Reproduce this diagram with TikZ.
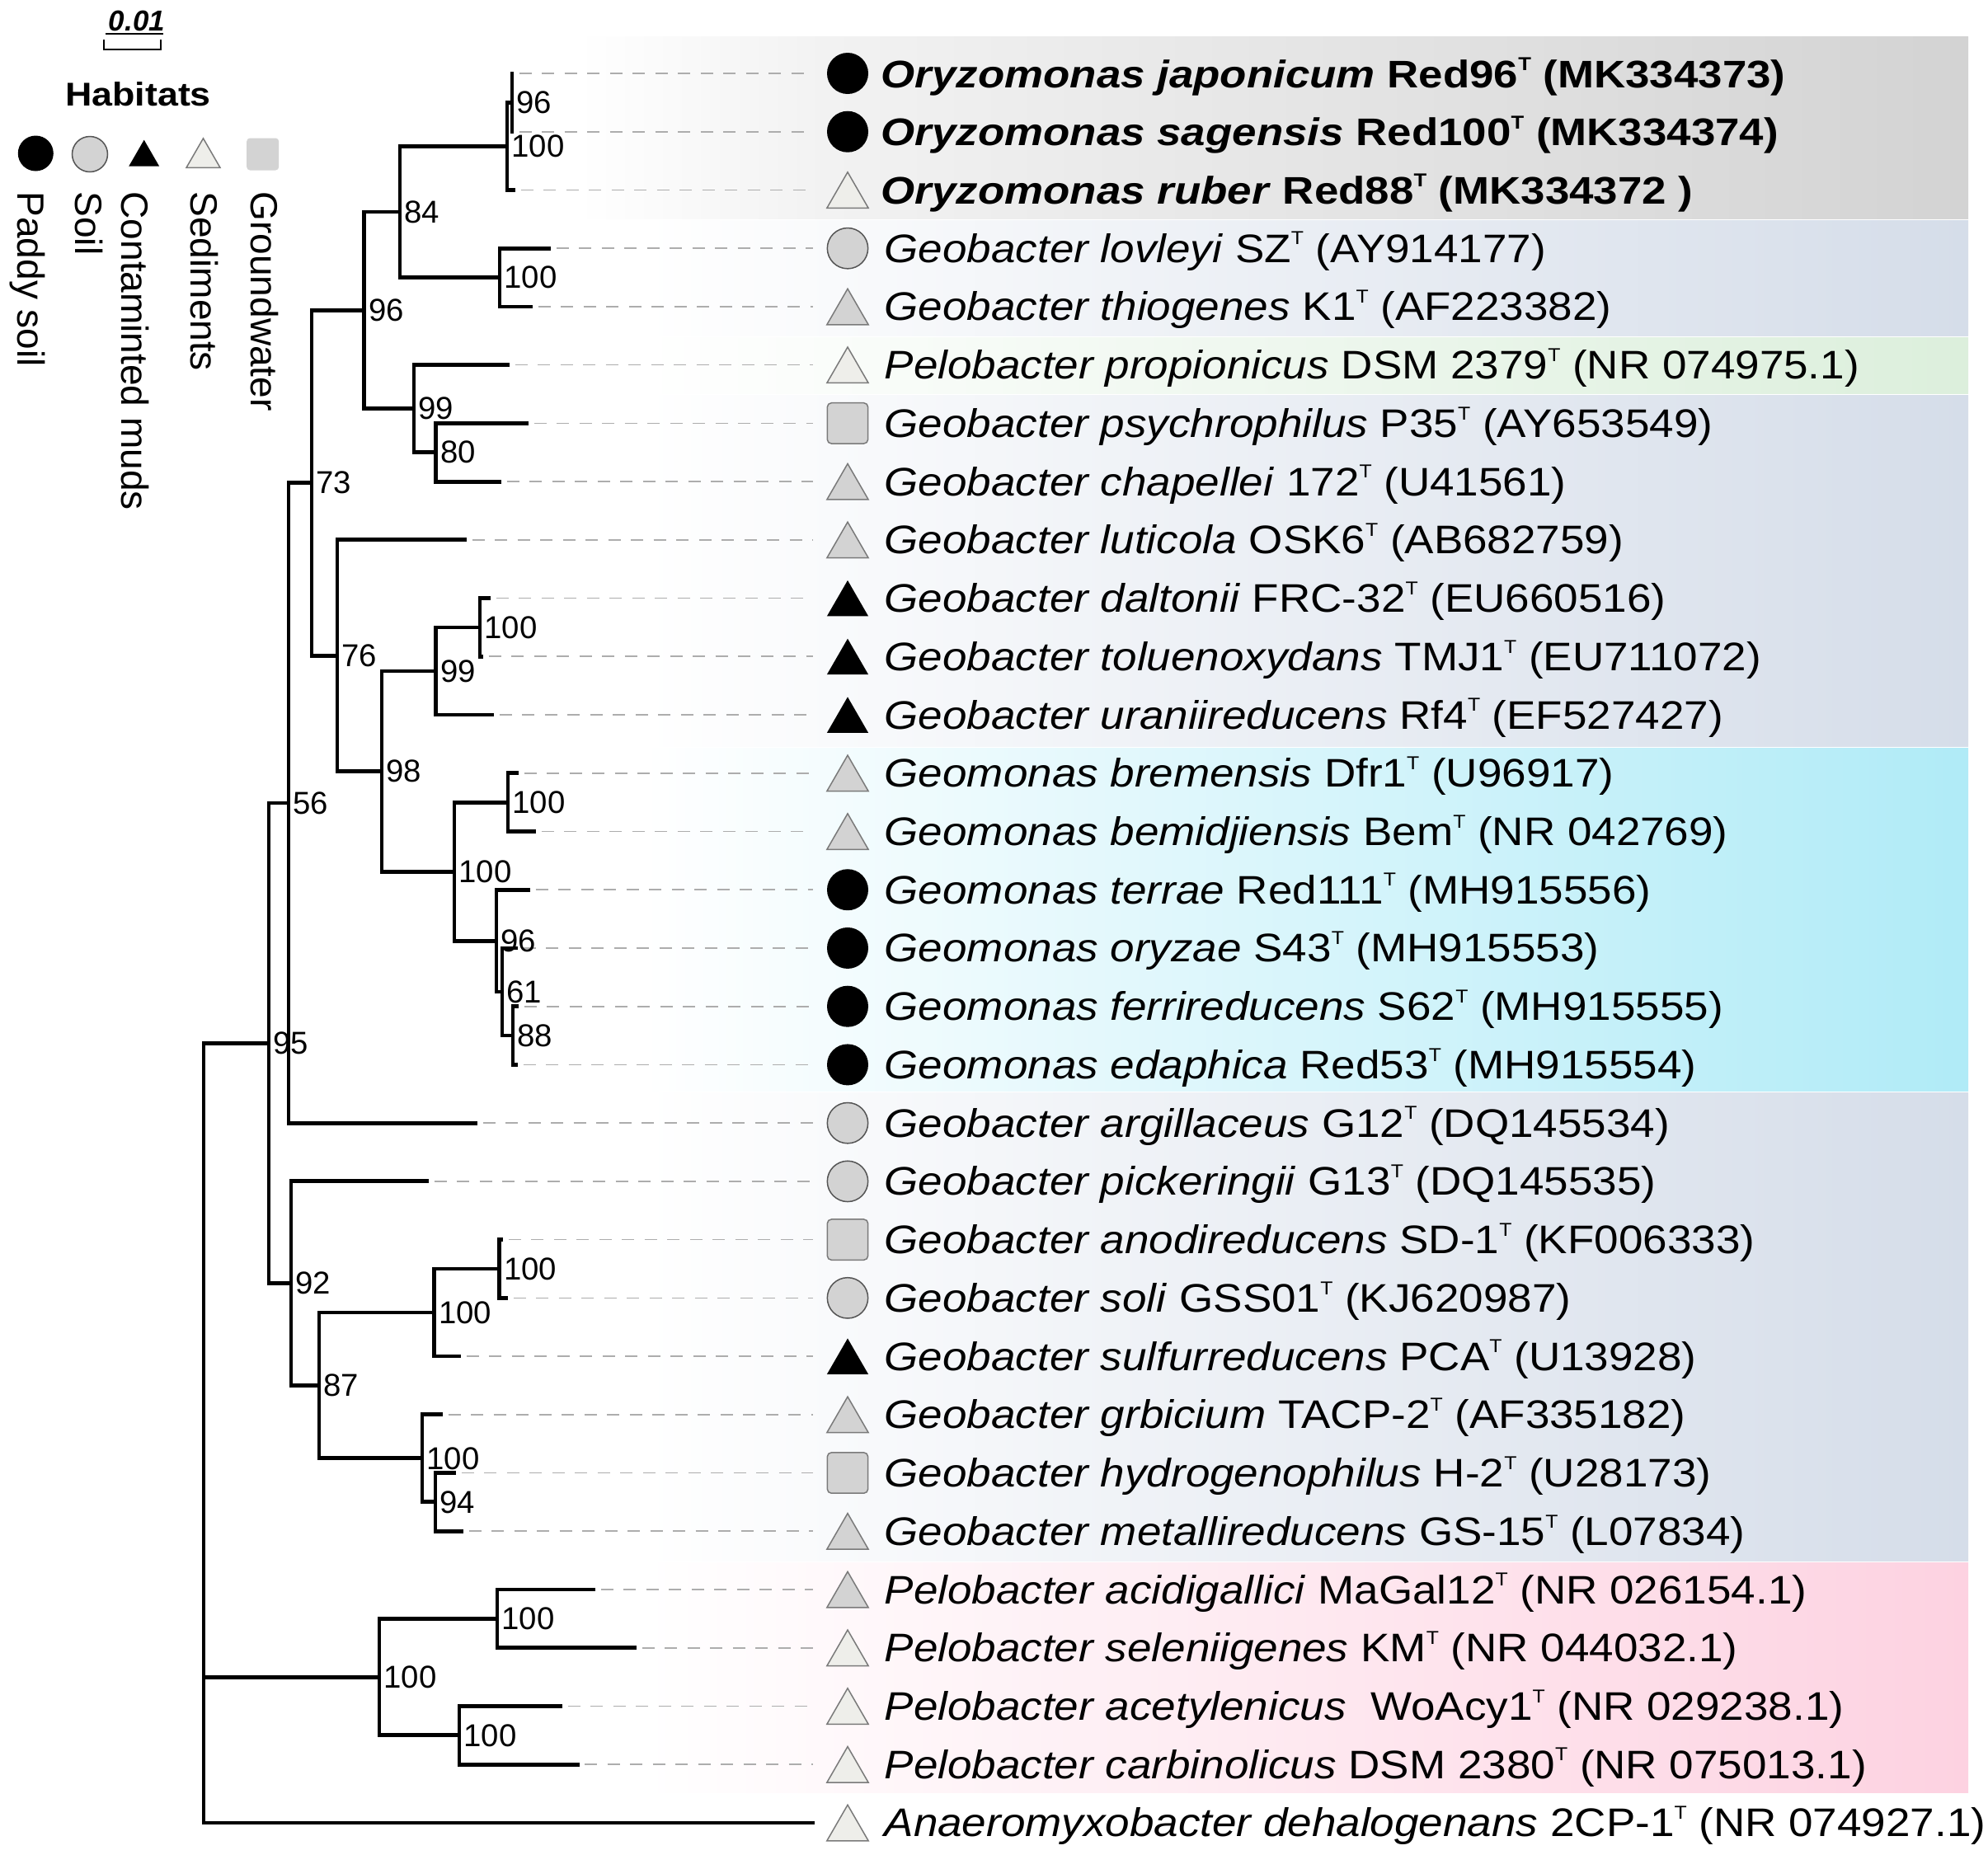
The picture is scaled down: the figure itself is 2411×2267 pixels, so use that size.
\documentclass[tikz,border=0pt]{standalone}
\usepackage{fontspec}
\setmainfont{Liberation Sans}
\newfontfamily\labfont{Liberation Sans}[FakeStretch=1.097]
\newfontfamily\blabfont{Liberation Sans}[FakeStretch=1.133]
\newfontfamily\habfont{Liberation Sans}[FakeStretch=1.12]
\usetikzlibrary{calc,shapes.geometric}

\definecolor{bandgray}{HTML}{D3D3D3}
\definecolor{bandgrayL}{HTML}{F2F2F2}
\definecolor{bandblue}{HTML}{D5DDE9}
\definecolor{bandgreen}{HTML}{DCEFDC}
\definecolor{bandcyan}{HTML}{B0EBF7}
\definecolor{bandpink}{HTML}{FDD2E1}
\definecolor{symgray}{HTML}{D3D3D3}
\definecolor{symlight}{HTML}{EEEEEA}
\definecolor{symedge}{HTML}{7A7A7A}
\definecolor{leadergray}{HTML}{ADADAD}

\newcommand\supT{\raisebox{0.44em}{\fontsize{6.8}{6}\selectfont T}}
\newcommand\rowy[1]{(89+(#1-1)*70.73)}

% leaf: index, tip x, symbol style, label style, text
\newcommand\leaf[5]{%
  \coordinate (l#1) at (#2,{\rowy{#1}});
  \coordinate (e#1) at (986,{\rowy{#1}});
  \node[#3] (s#1) at (1028,{\rowy{#1}}) {};
  \node[#4] (t#1) at (0,{\rowy{#1}+17}) {#5};
  \draw[leader] (l#1) -- (e#1);
}
% internal node: name, x, child1, child2, bootstrap
\newcommand\inode[5]{%
  \path (#3) -- (#4) coordinate[pos=0.5] (m#1);
  \coordinate (x#1) at (#2,0);
  \coordinate (#1) at (x#1 |- m#1);
  \draw[br] (#3) -| (#1) |- (#4);
  \node[bs] (b#1) at ($(#1)+(5,0)$) {#5};
}

\begin{document}
\begin{tikzpicture}[x=0.3pt,y=-0.3pt,
  br/.style={line width=1.45pt, line join=miter},
  leader/.style={draw=leadergray, line width=0.5pt, dash pattern=on 4.5pt off 3.75pt, shorten <=2pt},
  bs/.style={anchor=west, inner sep=0pt, font=\fontsize{11.5}{11.5}\selectfont},
  lab/.style={anchor=base west, inner sep=0pt, xshift=1072*0.3pt, font=\labfont\fontsize{14.5}{15}\selectfont},
  blab/.style={anchor=base west, inner sep=0pt, xshift=1068*0.3pt, font=\blabfont\bfseries\fontsize{14}{15}\selectfont},
  pcirc/.style={circle, fill=black, minimum size=15pt, inner sep=0pt},
  scirc/.style={circle, fill=symgray, draw=symedge!70!black, line width=0.45pt, minimum size=14.8pt, inner sep=0pt},
  gsq/.style={rectangle, rounded corners=1.5pt, fill=symgray, draw=symedge, line width=0.45pt, minimum size=14.8pt, inner sep=0pt},
  tribase/.style={regular polygon, regular polygon sides=3, inner sep=0pt, minimum size=17.4pt},
  ctri/.style={tribase, fill=black, yshift=-2.2pt},
  gtri/.style={tribase, fill=symgray, draw=symedge, line width=0.45pt, yshift=-2.2pt},
  ltri/.style={tribase, fill=symlight, draw=symedge, line width=0.45pt, yshift=-2.2pt},
  legtxt/.style={anchor=base west, rotate=-90, inner sep=0pt, font=\fontsize{13.8}{14}\selectfont}
]
\useasboundingbox (0,0) rectangle (2411,2267);

% ---- coloured bands
\shade[left color=white, right color=bandgrayL] (700,44) rectangle (1000,265);
\shade[left color=bandgrayL, right color=bandgray] (1000,44) rectangle (2387,265);
\shade[left color=white, right color=bandblue] (780,267) rectangle (2387,407);
\shade[left color=white, right color=bandgreen] (780,409) rectangle (2387,477);
\shade[left color=white, right color=bandblue] (780,479) rectangle (2387,905);
\shade[left color=white, right color=bandcyan] (780,907) rectangle (2387,1323);
\shade[left color=white, right color=bandblue] (780,1325) rectangle (2387,1893);
\shade[left color=white, right color=bandpink] (780,1895) rectangle (2387,2174);

% ---- legend
\node[font=\bfseries\itshape\fontsize{10.5}{10.5}\selectfont, anchor=base, inner sep=0pt] (scale) at (166,37) {0.01};
\draw[line width=0.6pt] (128,41) -- (198,41);
\draw[line width=0.75pt] (126,48) -- (126,60) -- (195,60) -- (195,48);
\node[font=\habfont\bfseries\fontsize{12}{12}\selectfont, anchor=base, inner sep=0pt] (hab) at (167.5,128) {Habitats};
\node[pcirc, minimum size=12.9pt] (k1) at (43.3,186) {};
\node[scirc, minimum size=12.9pt] (k2) at (109,187) {};
\node[tribase, fill=black, minimum size=12.8pt] (k3) at (174.7,191) {};
\node[tribase, fill=symlight, draw=symedge, line width=0.45pt, minimum size=14.2pt] (k4) at (246.5,191.5) {};
\node[rectangle, rounded corners=1.2pt, fill=symgray, minimum size=11.7pt, inner sep=0pt] (k5) at (318.7,187) {};
\node[legtxt] (kt1) at (21.7,232) {Paddy soil};
\node[legtxt] (kt2) at (91,232) {Soil};
\node[legtxt] (kt3) at (147.5,232) {Contaminted muds};
\node[legtxt] (kt4) at (231,232) {Sediments};
\node[legtxt] (kt5) at (304,232) {Groundwater};

% ---- leaves
\leaf{1}{623}{pcirc}{blab}{\textit{Oryzomonas japonicum} Red96\supT{} (MK334373)}
\leaf{2}{623}{pcirc}{blab}{\textit{Oryzomonas sagensis} Red100\supT{} (MK334374)}
\leaf{3}{625}{ltri}{blab}{\textit{Oryzomonas ruber} Red88\supT{} (MK334372 )}
\leaf{4}{668}{scirc}{lab}{\textit{Geobacter lovleyi} SZ\supT{} (AY914177)}
\leaf{5}{646}{gtri}{lab}{\textit{Geobacter thiogenes} K1\supT{} (AF223382)}
\leaf{6}{618}{ltri}{lab}{\textit{Pelobacter propionicus} DSM 2379\supT{} (NR 074975.1)}
\leaf{7}{641}{gsq}{lab}{\textit{Geobacter psychrophilus} P35\supT{} (AY653549)}
\leaf{8}{608}{gtri}{lab}{\textit{Geobacter chapellei} 172\supT{} (U41561)}
\leaf{9}{566}{gtri}{lab}{\textit{Geobacter luticola} OSK6\supT{} (AB682759)}
\leaf{10}{595}{ctri}{lab}{\textit{Geobacter daltonii} FRC-32\supT{} (EU660516)}
\leaf{11}{586}{ctri}{lab}{\textit{Geobacter toluenoxydans} TMJ1\supT{} (EU711072)}
\leaf{12}{599}{ctri}{lab}{\textit{Geobacter uraniireducens} Rf4\supT{} (EF527427)}
\leaf{13}{629}{gtri}{lab}{\textit{Geomonas bremensis} Dfr1\supT{} (U96917)}
\leaf{14}{650}{gtri}{lab}{\textit{Geomonas bemidjiensis} Bem\supT{} (NR 042769)}
\leaf{15}{643}{pcirc}{lab}{\textit{Geomonas terrae} Red111\supT{} (MH915556)}
\leaf{16}{628}{pcirc}{lab}{\textit{Geomonas oryzae} S43\supT{} (MH915553)}
\leaf{17}{629}{pcirc}{lab}{\textit{Geomonas ferrireducens} S62\supT{} (MH915555)}
\leaf{18}{628}{pcirc}{lab}{\textit{Geomonas edaphica} Red53\supT{} (MH915554)}
\leaf{19}{579}{scirc}{lab}{\textit{Geobacter argillaceus} G12\supT{} (DQ145534)}
\leaf{20}{520}{scirc}{lab}{\textit{Geobacter pickeringii} G13\supT{} (DQ145535)}
\leaf{21}{610}{gsq}{lab}{\textit{Geobacter anodireducens} SD-1\supT{} (KF006333)}
\leaf{22}{616}{scirc}{lab}{\textit{Geobacter soli} GSS01\supT{} (KJ620987)}
\leaf{23}{559}{ctri}{lab}{\textit{Geobacter sulfurreducens} PCA\supT{} (U13928)}
\leaf{24}{537}{gtri}{lab}{\textit{Geobacter grbicium} TACP-2\supT{} (AF335182)}
\leaf{25}{553}{gsq}{lab}{\textit{Geobacter hydrogenophilus} H-2\supT{} (U28173)}
\leaf{26}{562}{gtri}{lab}{\textit{Geobacter metallireducens} GS-15\supT{} (L07834)}
\leaf{27}{722}{gtri}{lab}{\textit{Pelobacter acidigallici} MaGal12\supT{} (NR 026154.1)}
\leaf{28}{772}{ltri}{lab}{\textit{Pelobacter seleniigenes} KM\supT{} (NR 044032.1)}
\leaf{29}{682}{ltri}{lab}{\textit{Pelobacter acetylenicus}\ \ WoAcy1\supT{} (NR 029238.1)}
\leaf{30}{702.5}{ltri}{lab}{\textit{Pelobacter carbinolicus} DSM 2380\supT{} (NR 075013.1)}
\leaf{31}{988}{ltri}{lab}{\textit{Anaeromyxobacter dehalogenans} 2CP-1\supT{} (NR 074927.1)}

% ---- internal nodes
\inode{A}{621}{l1}{l2}{96}
\inode{B}{615}{A}{l3}{100}
\inode{D}{606}{l4}{l5}{100}
\inode{C}{485}{B}{D}{84}
\inode{G}{528.6}{l7}{l8}{80}
\inode{F}{502}{l6}{G}{99}
\inode{E}{441.5}{C}{F}{96}
\inode{Z}{582}{l10}{l11}{100}
\inode{X}{528.6}{Z}{l12}{99}
\inode{AA}{616}{l13}{l14}{100}
\inode{DD}{622}{l17}{l18}{88}
\inode{CC}{609}{l16}{DD}{61}
\inode{BB}{602}{l15}{CC}{96}
\inode{Y}{551}{AA}{BB}{100}
\inode{J}{463}{X}{Y}{98}
\inode{I}{409}{l9}{J}{76}
\inode{H}{378}{E}{I}{73}
\inode{K}{350}{H}{l19}{56}
\inode{T}{605.6}{l21}{l22}{100}
\inode{Q}{526.5}{T}{l23}{100}
\inode{U}{528}{l25}{l26}{94}
\inode{S}{512}{l24}{U}{100}
\inode{O}{387}{Q}{S}{87}
\inode{N}{353}{l20}{O}{92}
\inode{M}{326}{K}{N}{95}
\inode{V}{603}{l27}{l28}{100}
\inode{W}{557}{l29}{l30}{100}
\inode{P}{460}{V}{W}{100}

% ---- root
\coordinate (xR) at (247,0);
\coordinate (R) at (xR |- M);
\draw[br] (M) -| (R) |- (l31);
\draw[br] (P) -- (R |- P);
\end{tikzpicture}
\end{document}
